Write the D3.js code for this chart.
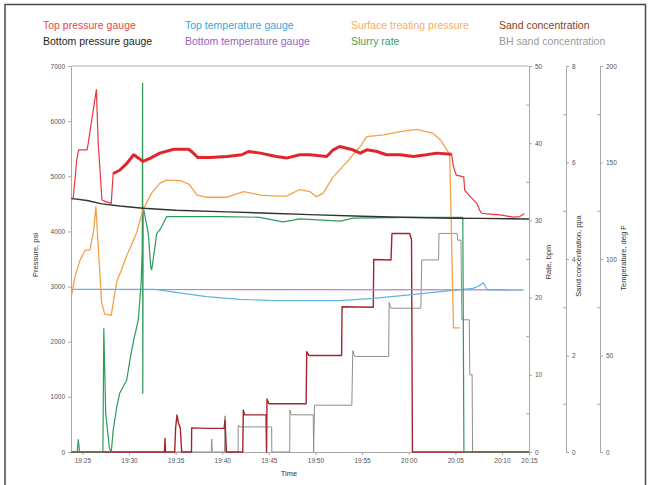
<!DOCTYPE html>
<html>
<head>
<meta charset="utf-8">
<script src="https://cdn.jsdelivr.net/npm/d3@7"></script>
<style>
  body { margin: 0; background: #fff; }
  text { font-family: "Liberation Sans", Arial, sans-serif; }
</style>
</head>
<body>
<div id="chart"></div>
<script>
// all times are minutes after 19:00
var topPressure = [[24.0,4570],[24.4,5300],[24.6,5480],[25.5,5480],[25.6,5570],[26.5,6570],[26.7,5600],[27.1,4570],[27.5,4540],[28.1,4510],
  [28.3,5050],[29.0,5110],[29.8,5240],[30.5,5390],[31.0,5330],[31.5,5270],[32.3,5330],[33.3,5420],[34.8,5490],[36.4,5490],[36.7,5450],
  [37.4,5340],[38.7,5340],[40.5,5360],[42.1,5390],[42.8,5450],[44.1,5420],[45.8,5360],[46.9,5330],[48.3,5390],[49.4,5390],[51.2,5360],
  [51.9,5480],[52.6,5540],[54.0,5480],[54.8,5420],[55.5,5480],[56.6,5450],[57.6,5390],[59.1,5390],[60.5,5360],[61.9,5390],[63.0,5420],
  [64.6,5400],[64.8,5170],[65.1,5020],[65.9,4990],[66.0,4750],[66.6,4630],[67.3,4510],[67.6,4390],[67.8,4330],[68.4,4320],[69.8,4300],
  [71.2,4260],[71.9,4270],[72.4,4320]];
var bottomPressure = [[23.8,4600],[25.5,4560],[27.1,4500],[29.0,4460],[31.5,4420],[35.0,4385],[40.5,4355],[45.0,4330],[49.4,4305],
  [55.0,4275],[59.1,4258],[64.6,4240],[67.6,4237],[72.9,4225]];
var surfacePressure = [[23.85,2850],[24.2,3180],[24.75,3480],[25.3,3660],[25.8,3660],[26.2,4000],[26.45,4450],[26.7,3720],[27.07,2700],
  [27.4,2500],[28.1,2480],[28.3,2700],[28.7,3100],[29.2,3300],[29.75,3560],[30.8,3965],[31.5,4390],[32.4,4690],[33.3,4870],[34.0,4930],
  [35.5,4920],[36.4,4860],[36.9,4750],[37.3,4660],[38.3,4620],[40.5,4620],[42.3,4720],[44.1,4660],[45.8,4640],[46.9,4640],[48.3,4760],
  [49.4,4720],[50.1,4630],[50.8,4690],[51.9,4990],[53.4,5265],[54.8,5540],[55.5,5720],[57.3,5750],[59.1,5810],[60.9,5850],[62.6,5780],
  [63.4,5660],[64.1,5480],[64.4,5390],[64.8,2250],[65.5,2250]];
var slurryRate = [[23.8,0],[24.45,0],[24.56,1.6],[24.7,0],[27.2,0],[27.3,16.0],[27.5,5.0],[27.9,0.5],[28.1,0],[28.3,2.8],[28.7,5.9],
  [29.0,7.6],[29.75,9.3],[30.1,11.9],[30.5,14.5],[31.0,17.1],[31.3,21.9],[31.42,26.2],[31.46,47.8],[31.48,7.6],[31.52,31.8],[32.07,28.3],
  [32.33,24.0],[32.43,23.6],[32.79,26.6],[32.97,28.3],[33.32,28.8],[33.68,29.6],[34.04,30.5],[40.0,30.5],[44.0,30.4],[46.5,29.8],
  [47.5,30.0],[48.3,30.2],[52.7,29.9],[54.0,30.3],[60.0,30.4],[65.8,30.4],[65.92,0],[72.9,0]];
var topTemperature = [[23.8,84.3],[32.8,84.3],[35.8,82.2],[38.3,80.5],[41.9,79.1],[45.4,78.4],[49.0,78.4],[52.6,78.4],[56.2,79.6],
  [59.8,81.3],[63.4,83.1],[66.9,84.8],[67.5,86.0],[68.0,87.7],[68.4,84.3],[68.7,84.0],[72.3,84.0]];
var bottomTemperature = [[23.8,84.2],[72.3,84.0]];
var sandConc = [[23.8,0],[33.8,0],[33.86,0.28],[33.92,0],[34.9,0],[35.0,0.5],[35.15,0.77],[35.3,0.6],[35.5,0.5],[35.65,0],[36.7,0],
  [36.72,0.5],[38.5,0.49],[40.2,0.49],[40.3,0.66],[40.45,0],[42.2,0],[42.26,0.87],[42.4,0.77],[44.7,0.77],[44.75,0],[44.8,1.1],[45.0,1.0],
  [49.0,1.0],[49.06,2.08],[49.3,2.0],[52.8,2.0],[52.85,3.01],[56.2,3.0],[56.25,3.99],[58.1,3.98],[58.2,4.53],[60.1,4.53],[60.3,4.4],
  [60.4,0],[72.9,0]];
var bhSandConc = [[23.8,0],[38.82,0],[38.87,0.27],[38.93,0],[40.25,0],[40.3,0.75],[40.35,0],[41.7,0],[41.72,0.55],[41.9,0.52],[45.3,0.52],
  [45.32,0],[47.24,0],[47.26,0.87],[47.4,0.77],[49.76,0.77],[49.8,0],[49.9,0.97],[53.9,0.97],[54.0,2.1],[54.2,1.98],[57.85,1.98],
  [57.9,3.1],[58.1,2.98],[61.3,2.98],[61.4,3.98],[63.2,3.98],[63.25,4.53],[65.2,4.53],[65.25,4.39],[65.6,4.39],[65.7,2.74],[66.5,2.74],
  [66.55,1.6],[66.8,1.6],[66.85,0],[72.9,0]];

var xTickMinutes = [25, 30, 35, 40, 45, 50, 55, 60, 65, 70, 72.9];
var xTickLabels = ["19:25","19:30","19:35","19:40","19:45","19:50","19:55","20:00","20:05","20:10","20:15"];
var pressureTicks = [0, 1000, 2000, 3000, 4000, 5000, 6000, 7000];
var rateTicks = [0, 10, 20, 30, 40, 50];
var rateMinor = [5, 15, 25, 35, 45];
var sandTicks = [0, 2, 4, 6, 8];
var sandMinor = [1, 3, 5, 7];
var tempTicks = [0, 50, 100, 150, 200];
var tempMinor = [25, 75, 125, 175];

var legendNames = [["Top pressure gauge", "Bottom pressure gauge"], ["Top temperature gauge", "Bottom temperature gauge"],
  ["Surface treating pressure", "Slurry rate"], ["Sand concentration", "BH sand concentration"]];
var legendColors = [["#e8454a", "#1e1e1e"], ["#3aa6dd", "#9a62c0"], ["#f5ad68", "#3a9f5c"], ["#8a3a22", "#9a9a9a"]];

var width = 650, height = 485;
var margin = {top: 66, right: 121, bottom: 33, left: 71};
var svg = d3.select("#chart").append("svg").attr("width", width).attr("height", height);

// picture frame
svg.append("path").attr("d", "M5,485V4.5H645.5V485").attr("fill", "none").attr("stroke", "#4a4a4a").attr("stroke-width", 1.5);

var x = d3.scaleLinear().domain([23.78, 72.9]).range([margin.left, width - margin.right]);
var yP = d3.scaleLinear().domain([0, 7000]).range([height - margin.bottom, margin.top]);
var yR = d3.scaleLinear().domain([0, 50]).range([height - margin.bottom, margin.top]);
var yS = d3.scaleLinear().domain([0, 8]).range([height - margin.bottom, margin.top]);
var yT = d3.scaleLinear().domain([0, 200]).range([height - margin.bottom, margin.top]);

function styleAxis(g) {
  g.attr("font-size", "6.5px").attr("font-family", null);
  g.selectAll("path, line").attr("stroke", "#a8a8a8");
  g.selectAll("text").attr("fill", "#555");
}

// plot frame top
svg.append("line").attr("x1", x.range()[0]).attr("x2", x.range()[1]).attr("y1", margin.top).attr("y2", margin.top)
  .attr("stroke", "#b0b0b0");

svg.append("g").attr("transform", "translate(0," + (height - margin.bottom) + ")")
  .call(d3.axisBottom(x).tickValues(xTickMinutes).tickFormat(function(d, i) { return xTickLabels[i]; }).tickSize(3).tickSizeOuter(0))
  .call(styleAxis);

svg.append("g").attr("transform", "translate(" + margin.left + ",0)")
  .call(d3.axisLeft(yP).tickValues(pressureTicks).tickFormat(d3.format("d")).tickSize(3).tickSizeOuter(0))
  .call(styleAxis);

function rightAxis(scale, pos, major, minor) {
  svg.append("g").attr("transform", "translate(" + pos + ",0)")
    .call(d3.axisRight(scale).tickValues(major).tickFormat(d3.format("d")).tickSize(3).tickSizeOuter(0))
    .call(styleAxis);
  svg.append("g").attr("transform", "translate(" + pos + ",0)")
    .call(d3.axisLeft(scale).tickValues(minor).tickSize(3).tickSizeOuter(0).tickFormat(""))
    .call(styleAxis);
}
rightAxis(yR, 529, rateTicks, rateMinor);
rightAxis(yS, 566, sandTicks, sandMinor);
rightAxis(yT, 600, tempTicks, tempMinor);

// axis titles
function title(txt, tx, ty, rot) {
  svg.append("text").attr("transform", "translate(" + tx + "," + ty + ")" + (rot ? " rotate(-90)" : ""))
    .attr("text-anchor", "middle").attr("font-size", "7.5px").attr("fill", "#333").text(txt);
}
title("Pressure, psi", 38, 255, true);
title("Rate, bpm", 551, 262, true);
title("Sand concentration, ppa", 581, 256, true);
title("Temperature, deg F", 626, 258, true);
title("Time", 289, 476, false);

// series
function draw(data, yScale, color, w) {
  svg.append("path").datum(data)
    .attr("fill", "none").attr("stroke", color).attr("stroke-width", w).attr("stroke-linejoin", "round")
    .attr("d", d3.line().x(function(d) { return x(d[0]); }).y(function(d) { return yScale(d[1]); }));
}
draw(bhSandConc, yS, "#8e8e8e", 1);
draw(sandConc, yS, "#a4262c", 1.4);
draw(bottomTemperature, yT, "#b384cc", 1.2);
draw(topTemperature, yT, "#5db6e2", 1.2);
draw(slurryRate, yR, "#2f9a5e", 1.2);
draw(surfacePressure, yP, "#f3a24a", 1.3);
draw(bottomPressure, yP, "#333", 1.4);
draw(topPressure, yP, "#e8383e", 1.2);
draw(topPressure.filter(function(d) { return d[0] >= 28.3 && d[0] <= 64.6; }), yP, "#e0262c", 3);

// legend
var legendX = [43, 185, 351, 499];
legendNames.forEach(function(col, i) {
  col.forEach(function(name, j) {
    svg.append("text").attr("x", legendX[i]).attr("y", 29 + j * 16)
      .attr("font-size", "10.5px").attr("fill", legendColors[i][j]).text(name);
  });
});
</script>
</body>
</html>
